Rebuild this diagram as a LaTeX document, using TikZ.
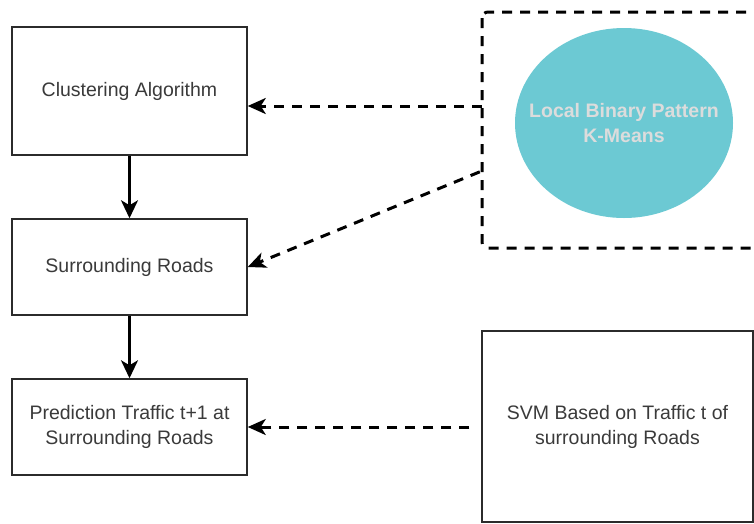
\documentclass[tikz,border=0pt]{standalone}
\usepackage{fontspec}
\setmainfont{Liberation Sans}
\usetikzlibrary{arrows.meta,calc,shapes.geometric}
\definecolor{boxline}{HTML}{2B2B2B}
\definecolor{txt}{HTML}{3A3A3A}
\definecolor{tealfill}{HTML}{6CC9D3}
\definecolor{paletxt}{HTML}{DCDCDC}
\tikzset{
  stepbox/.style={draw=boxline, line width=1.5pt, fill=white, text=txt,
    minimum width=235pt, align=center, font=\fontsize{19.5}{25}\selectfont},
  flow/.style={line width=2.6pt, -{Stealth[length=18pt,width=17pt,inset=5pt]}},
  dashflow/.style={line width=3pt, dash pattern=on 10pt off 8pt,
    -{Stealth[length=18pt,width=16pt,inset=5pt]}},
}
\begin{document}
\begin{tikzpicture}[x=1pt,y=-1pt]
\useasboundingbox (0,0) rectangle (754,523);
\clip (0,0) rectangle (754,523);

% left column
\node[stepbox, minimum height=128pt] (clust) at (129.5,91) {Clustering Algorithm};
\node[stepbox, minimum height=96pt] (surr) at (129.5,267) {Surrounding Roads};
\node[stepbox, minimum height=96pt] (pred) at (129.5,427) {Prediction Traffic t+1 at\\Surrounding Roads};

% right column: dashed group around the clustering method
\draw[line width=3pt, dash pattern=on 10pt off 8pt, rounded corners=6pt, draw=black]
  (482,12) rectangle (790,248);
\node[inner sep=0pt, minimum width=308pt, minimum height=236pt] (lbpgroup) at (636,130) {};
\node[ellipse, fill=tealfill, inner sep=0pt, minimum width=218pt, minimum height=190pt]
  (lbp) at (624,123) {};
\node[text=paletxt, align=center, font=\bfseries\fontsize{19.5}{25}\selectfont]
  (lbptext) at (lbp.center) {Local Binary Pattern\\K-Means};
\node[draw=boxline, line width=1.5pt, minimum width=271pt, minimum height=191pt,
  text=txt, align=center, font=\fontsize{19.5}{25}\selectfont]
  (svm) at (617.5,426.5) {SVM Based on Traffic t of\\surrounding Roads};

% connectors
\coordinate (g1) at ($(lbpgroup.west |- clust.east)+(0,15)$);
\coordinate (g2) at ($(lbpgroup.north west)+(-2,160)$);
\coordinate (s1) at ($(svm.west |- pred.east)+(-12,0)$);
\draw[flow] (clust.south) -- (surr.north);
\draw[flow] (surr.south) -- (pred.north);
\draw[dashflow] (g1) -- ($(clust.east)+(0,15)$);
\draw[dashflow] (g2) -- (surr.east);
\draw[dashflow] (s1) -- (pred.east);
\end{tikzpicture}
\end{document}
